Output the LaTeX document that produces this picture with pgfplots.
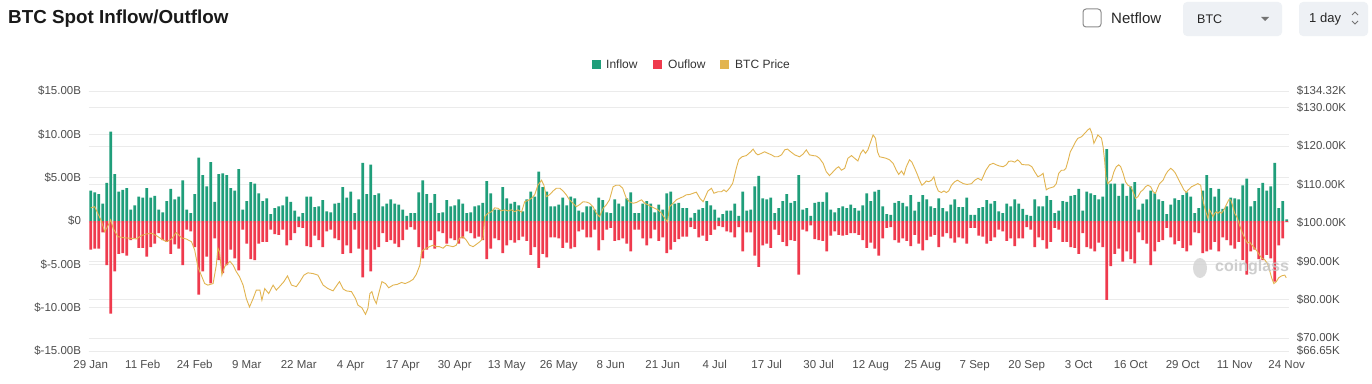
\documentclass[border=0pt]{standalone}
\usepackage{fontspec}
\setmainfont{Liberation Sans}
\usepackage{pgfplots}
\pgfplotsset{compat=1.18}
\definecolor{inc}{HTML}{1F9E7A}
\definecolor{outc}{HTML}{EF3A4D}
\definecolor{pricec}{HTML}{E2B450}
\definecolor{gridc}{HTML}{EBEBEB}
\definecolor{tickc}{HTML}{4D4D4D}
\definecolor{boxc}{HTML}{EEF1F5}
\begin{document}
\begin{tikzpicture}[x=1bp,y=1bp]
\fill[white] (0,0) rectangle (1372,383);
\path[use as bounding box] (0,0) rectangle (1372,383);
\pgfplotsset{common/.style={at={(88.7bp,32bp)}, anchor=south west, scale only axis,
  width=1200bp, height=260bp, xmin=-0.5, xmax=299.5,
  axis line style={draw=none}, major tick length=0pt,
  tick label style={font=\fontsize{11.5bp}{13bp}\selectfont, text=tickc},
  grid style={gridc, line width=0.8bp}}}
% right axis (price scale, grid + labels)
\begin{axis}[common, ymin=66.65, ymax=134.32, xtick=\empty, ymajorgrids,
  yticklabel pos=right,
  ytick={66.65,70,80,90,100,110,120,130,134.32},
  yticklabels={\$66.65K,\$70.00K,\$80.00K,\$90.00K,\$100.00K,\$110.00K,\$120.00K,\$130.00K,\$134.32K},
  yticklabel style={inner sep=0pt, xshift=8bp, anchor=west}]
\end{axis}
% left axis with bars
\begin{axis}[common, ymin=-15, ymax=15, ymajorgrids,
  ytick={-15,-10,-5,0,5,10,15},
  yticklabels={\$-15.00B,\$-10.00B,\$-5.00B,\$0,\$5.00B,\$10.00B,\$15.00B},
  yticklabel style={inner sep=0pt, xshift=-7.5bp, anchor=east},
  xtick={0,13,...,299},
  xticklabels={29 Jan,11 Feb,24 Feb,9 Mar,22 Mar,4 Apr,17 Apr,30 Apr,13 May,26 May,8 Jun,21 Jun,4 Jul,17 Jul,30 Jul,12 Aug,25 Aug,7 Sep,20 Sep,3 Oct,16 Oct,29 Oct,11 Nov,24 Nov},
  xticklabel style={inner sep=0pt, yshift=-9bp, anchor=north}]
\addplot[ybar, bar width=0.72, fill=inc, draw=none] coordinates {
(0,3.5)(1,3.3)(2,3.1)(3,2.0)(4,4.4)(5,10.3)(6,5.4)(7,3.4)(8,3.6)(9,3.8)
(10,1.3)(11,1.8)(12,2.8)(13,2.7)(14,3.8)(15,2.7)(16,2.9)(17,1.3)(18,1.0)(19,2.3)
(20,3.7)(21,2.5)(22,2.8)(23,4.7)(24,1.3)(25,0.9)(26,3.1)(27,7.3)(28,5.3)(29,4.0)
(30,6.8)(31,2.2)(32,5.4)(33,5.5)(34,5.3)(35,3.8)(36,3.5)(37,6.0)(38,1.3)(39,2.3)
(40,4.5)(41,4.3)(42,3.2)(43,2.3)(44,2.6)(45,0.8)(46,1.5)(47,1.7)(48,1.8)(49,2.8)
(50,2.2)(51,1.2)(52,0.5)(53,0.9)(54,2.8)(55,2.8)(56,1.6)(57,1.7)(58,2.4)(59,1.1)
(60,1.0)(61,2.0)(62,2.1)(63,3.9)(64,2.7)(65,3.4)(66,0.9)(67,2.5)(68,6.7)(69,3.1)
(70,6.5)(71,3.0)(72,3.2)(73,1.7)(74,2.0)(75,2.5)(76,2.0)(77,1.9)(78,1.3)(79,0.6)
(80,0.9)(81,0.9)(82,3.3)(83,4.7)(84,3.1)(85,2.1)(86,3.1)(87,0.9)(88,1.0)(89,2.4)
(90,1.7)(91,1.8)(92,2.5)(93,2.0)(94,0.9)(95,1.0)(96,1.7)(97,1.8)(98,2.1)(99,4.6)
(100,3.2)(101,1.3)(102,1.3)(103,3.9)(104,2.6)(105,2.0)(106,2.2)(107,1.8)(108,1.1)(109,2.5)
(110,3.4)(111,2.8)(112,5.7)(113,3.9)(114,3.4)(115,1.7)(116,1.7)(117,1.9)(118,2.7)(119,1.8)
(120,2.8)(121,2.6)(122,1.2)(123,1.0)(124,1.7)(125,1.7)(126,1.3)(127,2.7)(128,2.4)(129,1.0)
(130,0.9)(131,2.5)(132,2.0)(133,1.7)(134,2.6)(135,3.3)(136,0.9)(137,0.9)(138,2.0)(139,2.3)
(140,2.0)(141,1.0)(142,1.9)(143,1.3)(144,3.2)(145,3.4)(146,2.0)(147,2.1)(148,1.5)(149,1.5)
(150,0.4)(151,0.9)(152,1.3)(153,1.5)(154,2.3)(155,1.8)(156,1.3)(157,0.4)(158,0.8)(159,1.2)
(160,1.2)(161,2.0)(162,0.6)(163,3.4)(164,1.2)(165,1.3)(166,4.0)(167,5.2)(168,2.6)(169,2.5)
(170,2.7)(171,0.9)(172,1.5)(173,2.3)(174,3.1)(175,2.1)(176,2.3)(177,5.3)(178,1.3)(179,1.5)
(180,0.6)(181,2.1)(182,2.2)(183,2.2)(184,3.3)(185,1.3)(186,1.0)(187,1.5)(188,1.7)(189,1.5)
(190,1.9)(191,1.5)(192,1.2)(193,1.8)(194,3.2)(195,2.3)(196,3.4)(197,3.6)(198,1.7)(199,0.8)
(200,0.7)(201,2.1)(202,2.3)(203,2.1)(204,1.7)(205,3.0)(206,1.2)(207,2.2)(208,3.0)(209,2.5)
(210,1.7)(211,1.5)(212,2.6)(213,1.5)(214,1.1)(215,1.9)(216,2.5)(217,1.6)(218,1.6)(219,2.7)
(220,0.7)(221,0.7)(222,1.5)(223,1.6)(224,2.4)(225,2.0)(226,2.3)(227,1.1)(228,0.9)(229,2.0)
(230,1.7)(231,2.5)(232,2.0)(233,1.4)(234,0.7)(235,0.6)(236,2.5)(237,1.7)(238,1.7)(239,2.9)
(240,2.4)(241,0.9)(242,1.2)(243,2.3)(244,2.2)(245,2.9)(246,3.0)(247,3.7)(248,1.2)(249,3.4)
(250,3.2)(251,3.0)(252,2.5)(253,2.8)(254,8.3)(255,4.3)(256,4.3)(257,2.9)(258,4.3)(259,2.9)
(260,4.0)(261,4.5)(262,1.3)(263,2.0)(264,2.5)(265,3.5)(266,3.2)(267,2.5)(268,2.3)(269,0.8)
(270,1.9)(271,2.6)(272,2.4)(273,3.0)(274,3.3)(275,2.8)(276,0.9)(277,1.5)(278,3.5)(279,5.3)
(280,3.8)(281,2.8)(282,3.7)(283,1.4)(284,1.7)(285,2.7)(286,2.6)(287,2.5)(288,4.1)(289,4.9)
(290,1.7)(291,2.3)(292,3.8)(293,4.4)(294,3.5)(295,4.0)(296,6.7)(297,1.5)(298,2.3)(299,0.2)
};
\addplot[ybar, bar width=0.72, fill=outc, draw=none] coordinates {
(0,-3.3)(1,-3.2)(2,-3.2)(3,-1.3)(4,-5.1)(5,-10.7)(6,-5.8)(7,-3.8)(8,-3.7)(9,-4.0)
(10,-2.2)(11,-2.0)(12,-3.1)(13,-3.1)(14,-4.1)(15,-3.0)(16,-2.6)(17,-1.4)(18,-2.2)(19,-2.4)
(20,-3.8)(21,-2.7)(22,-3.2)(23,-5.1)(24,-1.0)(25,-1.2)(26,-3.0)(27,-8.5)(28,-5.8)(29,-4.1)
(30,-7.2)(31,-2.0)(32,-4.5)(33,-6.0)(34,-5.1)(35,-3.3)(36,-4.3)(37,-5.7)(38,-1.0)(39,-2.6)
(40,-4.4)(41,-4.5)(42,-2.6)(43,-2.4)(44,-2.4)(45,-1.0)(46,-1.5)(47,-1.6)(48,-1.0)(49,-2.8)
(50,-2.2)(51,-1.4)(52,-0.7)(53,-0.8)(54,-2.9)(55,-3.0)(56,-1.7)(57,-2.2)(58,-3.0)(59,-1.2)
(60,-1.0)(61,-2.0)(62,-2.2)(63,-3.8)(64,-2.8)(65,-3.7)(66,-1.0)(67,-3.2)(68,-6.5)(69,-3.3)
(70,-5.8)(71,-3.3)(72,-3.0)(73,-1.4)(74,-2.4)(75,-2.2)(76,-2.6)(77,-3.0)(78,-2.2)(79,-1.0)
(80,-0.7)(81,-1.0)(82,-3.0)(83,-4.3)(84,-3.3)(85,-2.2)(86,-3.2)(87,-1.2)(88,-1.4)(89,-2.6)
(90,-2.0)(91,-2.2)(92,-2.6)(93,-2.0)(94,-1.2)(95,-1.4)(96,-2.0)(97,-1.8)(98,-2.2)(99,-4.4)
(100,-3.2)(101,-2.0)(102,-2.2)(103,-3.7)(104,-2.8)(105,-2.2)(106,-2.5)(107,-2.2)(108,-1.8)(109,-2.3)
(110,-3.9)(111,-3.0)(112,-5.4)(113,-3.8)(114,-4.2)(115,-1.9)(116,-1.9)(117,-2.0)(118,-3.1)(119,-2.5)
(120,-3.2)(121,-3.0)(122,-1.2)(123,-1.0)(124,-1.9)(125,-1.9)(126,-1.0)(127,-3.4)(128,-2.2)(129,-1.0)
(130,-0.8)(131,-2.3)(132,-2.2)(133,-2.0)(134,-2.6)(135,-3.5)(136,-1.0)(137,-1.0)(138,-2.0)(139,-2.8)
(140,-2.0)(141,-1.0)(142,-2.3)(143,-1.9)(144,-3.7)(145,-3.3)(146,-2.4)(147,-2.1)(148,-1.8)(149,-1.8)
(150,-0.7)(151,-0.9)(152,-1.9)(153,-1.7)(154,-2.3)(155,-1.6)(156,-1.0)(157,-0.6)(158,-0.7)(159,-1.2)
(160,-1.3)(161,-1.9)(162,-0.7)(163,-3.5)(164,-1.3)(165,-1.3)(166,-4.0)(167,-5.3)(168,-2.8)(169,-2.6)
(170,-3.1)(171,-1.0)(172,-1.6)(173,-2.4)(174,-2.9)(175,-2.2)(176,-2.3)(177,-6.2)(178,-1.0)(179,-1.2)
(180,-0.5)(181,-2.1)(182,-2.2)(183,-2.3)(184,-3.5)(185,-1.7)(186,-1.2)(187,-1.6)(188,-1.7)(189,-1.6)
(190,-1.4)(191,-1.4)(192,-1.6)(193,-2.2)(194,-3.1)(195,-2.5)(196,-3.2)(197,-4.0)(198,-2.0)(199,-0.8)
(200,-0.7)(201,-2.2)(202,-2.5)(203,-2.0)(204,-2.3)(205,-2.9)(206,-1.6)(207,-2.6)(208,-3.4)(209,-2.2)
(210,-1.8)(211,-1.6)(212,-3.0)(213,-1.8)(214,-1.4)(215,-2.0)(216,-2.5)(217,-1.9)(218,-2.0)(219,-2.6)
(220,-0.8)(221,-0.8)(222,-1.7)(223,-1.8)(224,-2.6)(225,-2.3)(226,-1.9)(227,-1.0)(228,-1.2)(229,-2.3)
(230,-2.0)(231,-2.9)(232,-2.0)(233,-2.0)(234,-0.7)(235,-1.0)(236,-3.0)(237,-1.9)(238,-2.2)(239,-3.2)
(240,-2.4)(241,-0.8)(242,-1.0)(243,-2.4)(244,-2.4)(245,-3.0)(246,-3.1)(247,-3.8)(248,-1.4)(249,-3.0)
(250,-3.2)(251,-3.5)(252,-2.5)(253,-3.0)(254,-9.1)(255,-5.2)(256,-3.8)(257,-3.2)(258,-4.7)(259,-3.5)
(260,-4.4)(261,-4.9)(262,-1.3)(263,-2.2)(264,-2.6)(265,-5.1)(266,-3.5)(267,-2.4)(268,-2.2)(269,-0.8)
(270,-1.9)(271,-2.7)(272,-2.3)(273,-3.1)(274,-3.5)(275,-2.8)(276,-1.3)(277,-1.4)(278,-3.7)(279,-3.5)
(280,-3.3)(281,-2.4)(282,-3.5)(283,-1.9)(284,-2.2)(285,-2.8)(286,-3.2)(287,-2.4)(288,-4.5)(289,-6.2)
(290,-3.5)(291,-3.3)(292,-4.4)(293,-4.5)(294,-3.9)(295,-4.3)(296,-7.0)(297,-2.8)(298,-2.0)(299,-0.1)
};
\end{axis}
% price line
\begin{axis}[common, ymin=66.65, ymax=134.32, hide axis]
\addplot[pricec, line width=0.9bp] coordinates {
(0,103.9)(1,104.2)(2.7,100.4)(3.5,97.7)(4.2,99.0)(5,100.8)(5.6,98.6)(6.8,96.4)(8.5,96.1)(10,96.0)
(11.4,95.8)(12.7,96.7)(13.9,97.1)(15.2,97.3)(16.4,96.7)(17.7,95.8)(18.9,95.1)(20.2,95.8)(21.4,97.5)(22.7,96.1)
(23.9,95.8)(25.2,95.1)(26,92.9)(26.8,88.5)(28.5,84.2)(29.3,83.8)(30.6,84.2)(31.4,89.0)(31.8,93.4)(32.2,92.5)
(32.8,86.4)(33.5,88.6)(34.8,90.0)(35.6,89.0)(36.4,87.3)(37.2,86.0)(38.1,83.8)(38.9,80.3)(39.7,78.1)(40.6,80.3)
(41.4,82.5)(42.3,82.5)(42.8,79.9)(43.5,82.9)(44.5,81.6)(45.6,83.8)(46.4,82.5)(47.2,83.4)(48.3,84.7)(49.2,86.2)
(50.2,83.8)(51.4,83.4)(52.3,84.7)(53.3,86.4)(54.3,87.0)(55.6,86.8)(56.8,86.4)(58.1,83.8)(59.3,82.9)(60.6,82.3)
(61.7,84.0)(62.2,84.7)(63.1,82.8)(63.9,82.3)(65.2,82.1)(66.2,80.3)(66.8,78.6)(67.8,77.9)(68.7,76.2)(69.3,77.7)
(69.8,81.6)(70.3,82.1)(70.8,80.3)(71.4,79.0)(72.0,81.6)(72.8,84.7)(73.7,84.2)(74.5,83.1)(75.6,83.8)(76.7,84.0)
(77.7,84.5)(78.6,84.2)(79.7,84.7)(80.6,85.3)(81.4,86.6)(82.3,89.0)(82.7,92.5)(83.1,92.9)(83.9,93.4)(84.7,93.8)
(85.6,94.2)(86.4,93.8)(87.2,93.8)(88.1,93.4)(88.9,94.2)(89.7,94.0)(90.6,93.8)(91.4,94.2)(92.2,96.0)(93.1,96.4)
(93.9,95.5)(94.7,94.2)(95.6,93.8)(96.4,94.4)(97.3,95.1)(98.1,96.0)(98.5,101.6)(99.3,102.5)(100.2,102.9)(101.0,103.9)
(101.8,103.8)(102.7,103.1)(103.5,103.4)(104.3,103.1)(105.2,103.4)(106.0,102.9)(106.8,103.4)(107.7,102.8)(108.5,105.5)(109.3,105.8)
(110.2,106.4)(111.0,107.3)(111.8,109.8)(112.7,111.1)(113.3,109.8)(113.9,106.8)(114.7,107.3)(115.6,108.3)(116.4,109.0)(117.3,109.0)
(118.1,108.3)(118.9,107.3)(119.7,106.0)(120.6,105.1)(121.4,104.2)(122.3,104.8)(123.1,105.5)(124.0,105.4)(124.7,105.1)(125.6,104.2)
(126.4,102.5)(127.2,101.6)(128.1,103.8)(128.9,104.7)(129.7,106.0)(130.6,109.4)(131.4,109.8)(132.2,109.8)(133.0,109.0)(133.9,106.4)
(134.7,105.5)(135.6,105.1)(136.4,105.3)(137.7,106.0)(138.5,105.1)(139.3,104.7)(140.2,104.2)(141.0,103.8)(141.8,103.4)(142.7,102.5)
(143.5,101.2)(144.2,100.3)(144.7,104.2)(145.6,105.1)(146.4,106.0)(147.2,106.4)(148.1,106.8)(148.9,107.3)(149.8,107.4)(150.6,107.7)
(151.4,108.0)(152.3,106.4)(153.1,105.5)(153.5,106.4)(154.3,108.3)(155.2,109.0)(155.8,107.7)(156.8,108.1)(157.7,108.1)(158.3,108.6)
(158.9,108.1)(159.7,109.0)(160.5,110.3)(161.4,114.2)(162.0,116.4)(162.8,117.2)(163.9,117.5)(165.0,118.5)(165.6,119.2)(166.3,118.1)
(166.8,117.7)(167.7,118.1)(168.5,118.5)(169.3,118.1)(170.2,117.7)(171.0,117.2)(171.8,117.2)(172.7,117.7)(173.5,119.0)(174.2,119.2)
(175.0,118.5)(176.0,117.7)(177.2,117.2)(178.1,117.9)(178.9,119.0)(179.7,117.7)(180.6,117.5)(181.4,117.4)(182.2,116.8)(183.1,115.5)
(183.9,113.3)(184.7,112.3)(185.6,113.3)(186.4,114.2)(187.0,114.6)(187.7,113.7)(188.5,114.2)(189.3,116.8)(190.2,117.5)(191.0,116.8)
(191.8,116.1)(192.5,118.1)(193.1,119.0)(193.7,118.1)(194.3,119.0)(195.0,121.1)(195.6,122.9)(196.2,122.0)(196.7,118.5)(197.2,117.2)
(198.1,117.0)(198.9,116.8)(199.7,116.4)(200.6,115.5)(201.4,113.7)(202.0,112.6)(202.7,113.5)(203.3,112.5)(203.9,114.6)(204.7,116.4)
(205.3,115.8)(206.0,114.2)(206.7,112.5)(207.2,111.1)(207.8,109.8)(208.3,110.2)(208.9,110.9)(209.5,110.7)(210.2,111.1)(210.8,112.0)
(211.3,109.8)(211.9,108.3)(212.7,107.9)(213.3,108.3)(213.9,107.9)(214.5,108.3)(215.2,109.8)(216.0,110.7)(216.7,111.1)(217.3,110.7)
(218.2,110.2)(219.1,110.0)(220.2,110.2)(221.0,111.1)(221.8,111.6)(222.7,111.1)(223.3,112.5)(223.8,113.7)(224.7,115.1)(225.6,115.5)
(226.4,115.1)(227.2,114.8)(228.1,114.6)(228.9,115.1)(229.5,116.0)(230.2,116.1)(231.0,115.8)(231.7,116.4)(232.2,116.0)(232.8,115.2)
(233.7,115.1)(234.5,115.1)(235.3,114.6)(236.0,113.3)(236.8,112.0)(237.7,112.5)(238.1,112.9)(238.5,110.7)(238.9,108.6)(239.5,109.0)
(240.2,109.2)(240.8,109.4)(241.4,110.2)(242.0,112.9)(242.7,113.7)(243.3,113.7)(243.8,114.2)(244.4,116.4)(244.9,118.5)(245.6,119.8)
(246.2,121.1)(246.8,122.0)(247.7,122.4)(248.5,123.3)(249.3,124.2)(249.8,124.6)(250.3,123.3)(250.8,120.7)(251.4,122.0)(251.8,122.9)
(252.7,122.0)(253.1,119.8)(253.5,116.0)(253.8,112.0)(254.3,110.2)(254.7,110.7)(255.2,111.1)(255.8,113.3)(256.4,114.6)(257.0,115.1)
(257.5,114.6)(258.1,112.9)(258.7,110.7)(259.3,109.8)(260.0,109.4)(260.6,108.1)(261.2,106.4)(261.8,106.8)(262.5,108.1)(263.1,108.6)
(263.7,109.4)(264.3,109.8)(265.0,109.4)(265.6,108.1)(266.2,107.7)(266.7,109.0)(267.2,110.2)(268.1,111.1)(268.7,112.5)(269.3,113.5)
(270.0,114.2)(270.6,113.7)(271.2,112.9)(271.8,111.6)(272.7,109.8)(273.3,108.6)(273.9,107.9)(274.3,108.5)(275.2,109.4)(276.0,109.8)
(276.8,110.2)(277.5,109.8)(277.8,107.3)(278.3,104.7)(278.9,102.5)(279.3,101.2)(279.7,103.4)(280.2,102.5)(280.6,101.6)(281.0,102.5)
(281.4,102.9)(281.8,102.5)(282.2,102.9)(282.7,102.5)(283.3,103.4)(283.9,104.7)(284.5,106.0)(285.0,106.0)(285.4,104.7)(286.0,102.5)
(286.7,101.2)(287.2,99.4)(287.8,97.7)(288.5,96.0)(289.2,94.7)(289.7,95.1)(290.3,94.2)(291.0,93.4)(291.7,92.5)(292.2,91.6)
(292.8,90.8)(293.5,90.4)(294.2,89.4)(294.7,87.7)(295.3,85.5)(295.8,84.2)(296.4,84.7)(297.0,85.7)(297.7,86.2)(298.5,86.4)
(298.9,85.7)
};
\end{axis}
% watermark
\fill[gray!35, opacity=0.8] (1200,115) ellipse (7bp and 10bp);
\node[anchor=west, inner sep=0pt, text=gray!45, opacity=0.85] at (1215,116) {\fontsize{16bp}{18bp}\selectfont\bfseries coinglass};
% title
\node[anchor=west, inner sep=0pt, text=black!90] at (8,364) {\fontsize{18.8bp}{21bp}\selectfont\bfseries BTC Spot Inflow/Outflow};
% controls
\draw[black!45, line width=1bp, rounded corners=3bp, fill=white] (1083,356) rectangle (1101,374);
\node[anchor=west, inner sep=0pt, text=black!85] at (1111,364.5) {\fontsize{15bp}{18bp}\selectfont Netflow};
\fill[boxc, rounded corners=4bp] (1183,347) rectangle (1282,381);
\node[anchor=west, inner sep=0pt, text=black!85] at (1197,364) {\fontsize{12.5bp}{15bp}\selectfont BTC};
\fill[black!55] (1261,366) -- (1269,366) -- (1265,362) -- cycle;
\fill[boxc, rounded corners=4bp] (1299,347) rectangle (1368,381);
\node[anchor=west, inner sep=0pt, text=black!85] at (1309,364) {\fontsize{13bp}{15bp}\selectfont 1 day};
\draw[black!55, line width=0.8bp] (1352,368) -- (1355,371) -- (1358,368);
\draw[black!55, line width=0.8bp] (1352,362) -- (1355,359) -- (1358,362);
% legend
\fill[inc] (592,314) rectangle (601,323);
\node[anchor=west, inner sep=0pt, text=black!80] at (606,318.5) {\fontsize{12bp}{14bp}\selectfont Inflow};
\fill[outc] (653,314) rectangle (662,323);
\node[anchor=west, inner sep=0pt, text=black!80] at (668,318.5) {\fontsize{12bp}{14bp}\selectfont Ouflow};
\fill[pricec] (720,314) rectangle (729,323);
\node[anchor=west, inner sep=0pt, text=black!80] at (735,318.5) {\fontsize{12bp}{14bp}\selectfont BTC Price};
\end{tikzpicture}
\end{document}
